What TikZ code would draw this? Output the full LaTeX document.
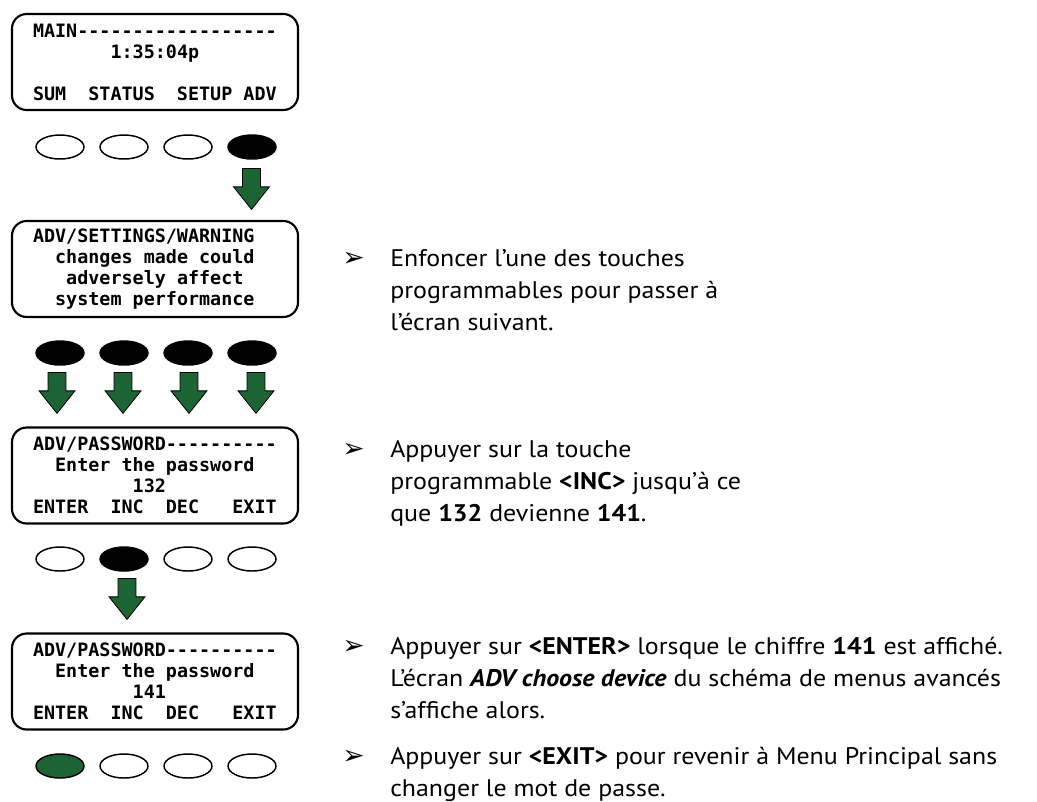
\documentclass[tikz,border=0pt]{standalone}
\usepackage{fontspec}
\setmainfont[FakeStretch=1.08]{PT Sans}
\newfontfamily\lcdfont[Ligatures=TeXOff]{DejaVu Sans Mono}
\newfontfamily\symfont{DejaVu Sans}
\usetikzlibrary{shapes.geometric,shapes.arrows}
\definecolor{keygreen}{RGB}{28,100,52}
% display font: every blank is one character cell wide
\newcommand\lcdstyle{\lcdfont\bfseries\fontsize{13.8}{15.75}\selectfont
    \fontdimen2\font=\fontcharwd\font`0\relax\fontdimen3\font=0pt\fontdimen4\font=0pt}
\begin{document}
\begin{tikzpicture}[
        x=0.75pt, y=-0.75pt,
        screen/.style={draw, line width=1.6pt, rounded corners=11pt, minimum width=214.5pt, minimum height=72pt,
            text width=183pt, align=flush left, inner sep=0pt, font=\lcdstyle},
        key/.style={ellipse, draw, line width=1.1pt, minimum width=36pt, minimum height=18pt, inner sep=0pt},
        pressed/.style={key, fill=black},
        enterkey/.style={key, fill=keygreen},
        downarrow/.style={single arrow, draw, line width=0.6pt, fill=keygreen, rotate=-90, anchor=tail,
            minimum height=30.75pt, inner xsep=0pt, inner ysep=6.4pt, single arrow head extend=6.75pt,
            single arrow tip angle=77},
        bullet/.style={anchor=base west, inner sep=0pt, font=\symfont\fontsize{20}{20}\selectfont},
        txt/.style={anchor=base west, align=left, inner sep=0pt, font=\fontsize{18}{24}\selectfont}
    ]
        \useasboundingbox (0,0) rectangle (1037,801);

        % Screen 1 (main menu)
        \node[screen] (scrMain) at (155,62) {MAIN------------------\\\phantom{0000000}1:35:04p\\[15.75pt]SUM~~STATUS~~SETUP~ADV};
        \node[key] (k11) at (60,147) {};
        \node[key] (k12) at (124,147) {};
        \node[key] (k13) at (188,147) {};
        \node[pressed] (k14) at (252,147) {};
        \node[downarrow] (a14) at (251.5,168) {};

        % Screen 2 (warning)
        \node[screen] (scrWarn) at (155,269) {ADV/SETTINGS/WARNING\\\phantom{00}changes~made~could\\\phantom{000}adversely~affect\\\phantom{00}system~performance};
        \node[pressed] (k21) at (60,353) {};
        \node[pressed] (k22) at (124,353) {};
        \node[pressed] (k23) at (188,353) {};
        \node[pressed] (k24) at (252,353) {};
        \node[downarrow] (a21) at (57,372) {};
        \node[downarrow] (a22) at (123,372) {};
        \node[downarrow] (a23) at (189,372) {};
        \node[downarrow] (a24) at (256,372) {};

        % Screen 3 (password 132)
        \node[screen] (scrPw1) at (155,475.5) {ADV/PASSWORD----------\\\phantom{00}Enter~the~password\\\phantom{000000000}132\\ENTER~~INC~~DEC~~~EXIT};
        \node[key] (k31) at (60,559) {};
        \node[pressed] (k32) at (124,559) {};
        \node[key] (k33) at (188,559) {};
        \node[key] (k34) at (252,559) {};
        \node[downarrow] (a32) at (127,578) {};

        % Screen 4 (password 141)
        \node[screen] (scrPw2) at (155,681.5) {ADV/PASSWORD----------\\\phantom{00}Enter~the~password\\\phantom{000000000}141\\ENTER~~INC~~DEC~~~EXIT};
        \node[enterkey] (k41) at (60,766) {};
        \node[key] (k42) at (124,766) {};
        \node[key] (k43) at (188,766) {};
        \node[key] (k44) at (252,766) {};

        % Instructions (text nodes sit on the baseline of their last line)
        \node[bullet] (b1) at (342,266) {➢};
        \node[txt] (t1) at (390,330) {Enfoncer l’une des touches\\programmables pour passer à\\l’écran suivant.};
        \node[bullet] (b2) at (342,457) {➢};
        \node[txt] (t2) at (390,521) {Appuyer sur la touche\\programmable \textbf{<INC>} jusqu’à ce\\que \textbf{132} devienne \textbf{141}.};
        \node[bullet] (b3) at (342,654) {➢};
        \node[txt] (t3) at (390,718) {Appuyer sur \textbf{<ENTER>} lorsque le chiffre \textbf{141} est affiché.\\L’écran \textbf{\textit{ADV choose device}} du schéma de menus avancés\\s’affiche alors.};
        \node[bullet] (b4) at (342,764) {➢};
        \node[txt] (t4) at (390,796) {Appuyer sur \textbf{<EXIT>} pour revenir à Menu Principal sans\\changer le mot de passe.};
    \end{tikzpicture}
\end{document}
